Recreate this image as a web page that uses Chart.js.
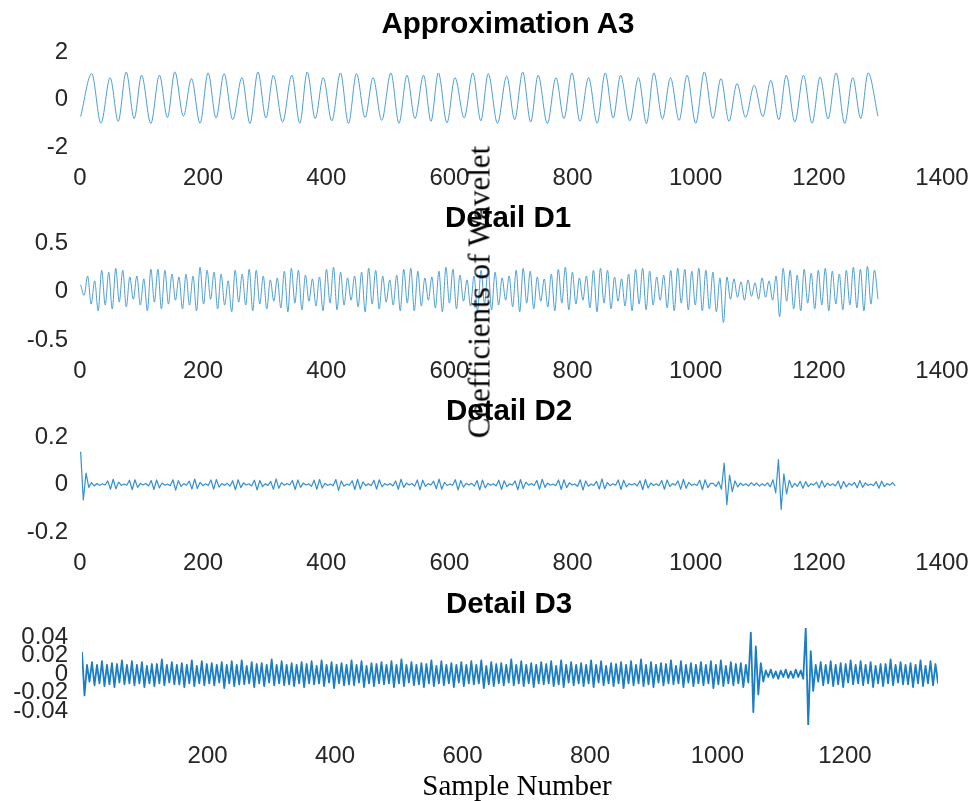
<!DOCTYPE html>
<html>
<head>
<meta charset="utf-8">
<script src="https://cdn.jsdelivr.net/npm/chart.js@4.4.1/dist/chart.umd.min.js"></script>
<style>
html,body{margin:0;padding:0;background:#fff;}
#wrap{position:relative;width:973px;height:801px;overflow:hidden;background:#fff;}
canvas{position:absolute;left:0;}
.title{position:absolute;font-family:"Liberation Sans",Arial,sans-serif;font-weight:bold;font-size:29.5px;line-height:29.5px;color:#000;white-space:nowrap;transform:translateX(-50%);z-index:5;}
.lab{position:absolute;font-family:"Liberation Serif","Times New Roman",serif;color:#000;white-space:nowrap;z-index:6;}
</style>
</head>
<body>
<div id="wrap">
  <canvas id="c0" width="973" height="175"></canvas>
  <canvas id="c1" width="973" height="177"></canvas>
  <canvas id="c2" width="973" height="175"></canvas>
  <canvas id="c3" width="973" height="177"></canvas>
  <div class="title" id="t0"></div>
  <div class="title" id="t1"></div>
  <div class="title" id="t2"></div>
  <div class="title" id="t3"></div>
  <div class="lab" id="ylab" style="font-size:31px;line-height:31px;left:479px;top:292px;transform:translate(-50%,-50%) rotate(-90deg);">Coefficients of Wavelet</div>
  <div class="lab" id="xlab" style="font-size:29px;line-height:29px;left:517px;top:771px;transform:translateX(-50%);">Sample Number</div>
</div>
<script>
// ---------------- DATA ----------------
const panelTitles = ['Approximation A3', 'Detail D1', 'Detail D2', 'Detail D3'];

// Approximation A3: sample positions of the start, each peak/trough, and the end
const a3X = [1,19,34,49,62,75,88,100,115,129,142,154,168,181,195,208,221,234,248,263,276,289,302,314,329,344,357,369,382,395,409,423,436,449,463,476,490,505,518,531,544,558,570,582,596,609,624,638,651,663,678,693,706,719,732,744,759,773,786,799,812,826,840,853,866,878,893,907,920,932,946,959,973,986,1000,1014,1028,1041,1054,1067,1081,1095,1109,1122,1135,1147,1161,1175,1189,1202,1215,1228,1242,1255,1268,1280,1296];
const a3Y = [-0.72,1.09,-1.0,0.92,-0.92,1.16,-0.8,1.02,-1.01,1.02,-0.76,1.16,-0.7,0.88,-1.0,1.12,-0.78,1.09,-0.85,0.92,-1.01,1.16,-0.78,1.02,-0.95,1.02,-1.0,1.16,-0.8,0.92,-0.9,1.12,-1.01,1.09,-0.76,0.92,-0.88,1.12,-1.0,1.02,-0.8,1.02,-0.92,1.12,-0.98,0.92,-0.78,1.12,-0.9,1.09,-1.0,0.98,-0.85,1.16,-0.95,1.02,-1.01,0.92,-0.8,1.12,-0.92,0.92,-1.0,1.12,-0.78,1.02,-0.9,0.92,-1.01,1.12,-0.82,0.92,-0.88,1.02,-1.0,1.16,-0.8,0.88,-0.92,0.67,-0.75,0.60,-0.72,0.81,-0.85,1.02,-0.95,1.02,-1.0,0.95,-0.82,1.12,-1.01,0.92,-0.8,1.12,-0.7];

// Detail D1: successive peaks/troughs (hundredths), evenly spread over samples d1Start..d1End
const d1Start = 1, d1End = 1296;
const d1Hundredths = [7,-4,16,-13,11,-20,22,-14,20,-18,24,-11,22,-16,15,-8,16,-14,13,-20,23,-11,23,-18,22,-13,18,-9,15,-18,18,-14,16,-20,25,-13,22,-8,20,-18,18,-14,11,-21,22,-11,18,-14,23,-20,22,-13,16,-18,
12,-10,14,-17,21,-21,24,-12,22,-19,17,-10,13,-15,15,-20,23,-12,25,-19,20,-14,14,-9,16,-16,20,-21,24,-13,22,-18,16,-11,12,-14,17,-20,23,-12,24,-20,21,-15,14,-9,15,-17,21,-21,25,-12,23,-18,17,-10,12,-15,16,-20,22,-13,24,-19,20,-14,
14,-9,16,-16,22,-21,24,-12,21,-18,15,-10,13,-16,18,-20,23,-12,25,-19,20,-13,14,-9,16,-17,22,-21,24,-12,22,-18,15,-10,13,-15,18,-20,23,-13,24,-19,21,-14,15,-9,17,-17,22,-20,24,-12,23,-19,21,-14,24,-20,22,-18,20,-21,14,-32,15,-8,13,-6,10,-9,12,-5,9,-8,14,-6,11,-9,16,-26,24,-10,22,-18,17,-20,23,-12,19,-18,22,-14,24,-20,21,-13,18,-19,22,-14,25,-17,23,-20,26,-13,22,-8];

// Detail D2: successive values (thousandths), evenly spread over samples d2Start..d2End
const d2Start = 1, d2End = 1324;
const d2Thousandths = [138,-65,48,-12,8,-6,4,-3,
3,-2,15,-20,22,-18,10,-4,2,-3,18,-22,20,-12,5,
-2,4,-6,17,-21,19,-14,6,-3,2,-5,20,-24,16,-8,
4,-3,14,-19,23,-17,9,-5,3,-4,19,-20,21,-11,4,
-3,5,-7,16,-22,20,-13,7,-2,3,-6,18,-23,17,-9,
3,-4,13,-20,24,-16,8,-3,4,-2,17,-21,19,-12,6,
-2,3,-8,18,-20,21,-15,5,-4,2,-5,21,-25,15,-7,
2,-3,16,-21,22,-19,11,-5,3,-5,18,-19,20,-10,4,
-3,4,-6,15,-20,22,-12,6,-2,4,-7,19,-22,18,-8,
4,-2,14,-18,23,-20,9,-4,2,-3,20,-23,17,-11,5,
-2,5,-7,17,-23,19,-14,5,-3,3,-6,18,-21,16,-9,
3,-3,15,-22,21,-17,10,-3,4,-4,17,-20,22,-12,6,
-3,2,-5,19,-21,20,-13,7,-2,2,-8,20,-24,15,-7,
2,-4,13,-19,24,-18,8,-5,3,-3,19,-21,18,-10,4,
-2,4,-6,16,-22,21,-15,6,-4,3,-5,17,-20,19,-8,
4,-3,15,-20,22,-16,9,-4,2,-4,18,-22,20,-13,5,
5,-8,12,-20,90,-85,40,-30,15,-10,6,-4,3,
-6,8,-4,6,-7,3,-5,7,-10,
20,-35,105,-105,45,-40,18,-12,
5,-8,14,-16,12,-9,4,-3,10,-15,16,-11,6,-4,3,-6,15,-18,13,-10,5,-3,9,-14,17,-12,7,-4,2,-5,12,-16,14,-9,4,-3,8,-6];

// Detail D3: successive values (thousandths), evenly spread over samples d3Start..d3End
const d3Start = 3, d3End = 1346;
const d3Thousandths = [24,-23,10,-8,
13,-12,10,-10,14,-13,10,-11, 12,-14,11,-9,15,-11,10,-10, 14,-12,10,-10,13,-14,9,-10, 11,-13,11,-10,16,-12,10,-9,
13,-11,10,-11,12,-14,10,-10, 15,-13,9,-10,14,-12,11,-10, 12,-12,10,-9,13,-15,10,-10, 14,-13,10,-11,15,-11,9,-10,
13,-14,11,-10,12,-13,10,-9, 16,-12,10,-10,14,-12,10,-11, 12,-13,10,-10,13,-14,11,-10, 14,-11,9,-10,15,-13,10,-9,
13,-15,10,-10,12,-12,10,-11, 15,-12,10,-9,14,-14,9,-10, 12,-13,11,-10,13,-11,10,-10, 14,-14,10,-10,16,-13,10,-9,
13,-12,10,-11,12,-14,11,-10, 15,-13,9,-10,14,-12,10,-10, 12,-14,10,-9,13,-13,10,-10, 14,-11,10,-10,15,-15,9,-11,
13,-13,11,-10,12,-12,10,-9, 16,-12,10,-10,14,-13,10,-10, 12,-14,10,-10,13,-11,11,-10, 14,-13,9,-11,15,-14,10,-9,
13,-12,10,-10,12,-13,10,-10, 15,-14,10,-9,14,-12,9,-10, 12,-13,11,-10,13,-15,10,-10, 14,-12,10,-10,16,-13,10,-11,
13,-14,10,-9,12,-12,11,-10, 15,-11,9,-10,14,-14,10,-9, 12,-13,10,-10,13,-12,10,-10, 14,-15,10,-11,15,-13,9,-10,
13,-12,11,-10,12,-14,10,-9,
45,-41,30,-22,12,-8,
4,-3,5,-4,3,-5,4,-3,5,-4,3,-4,5,-3,4,-5,
50,-55,25,-18,10,-8,
13,-12,10,-10,14,-13,10,-11, 12,-14,11,-9,15,-11,10,-10, 14,-12,10,-10,13,-14,9,-10,
11,-13,11,-10,16,-12,10,-9, 13,-11,10,-11,12,-14,10,-10, 15,-13,9,-10,14,-12,11,-10];

// tick labels
const xTicksFull = [0,200,400,600,800,1000,1200,1400];
const d3XTicks = [200,400,600,800,1000,1200];
const a3YTicks = [-2,0,2];
const d1YTicks = [-0.5,0,0.5];
const d2YTicks = [-0.2,0,0.2];
const d3YTicks = [-0.04,-0.02,0,0.02,0.04];

// ---------------- LAYOUT ----------------
const W = 973;
const TITLE_SIZE = 29.5;
const panels = [
  {canvas:'c0', top:52,  bottom:147, left:80, right:942, xmin:0, xmax:1400, ymin:-2,     ymax:2,    xt:xTicksFull, yt:a3YTicks, ypad:12, color:'#4c9ed3', lw:1,   mono:true,  titleX:508, titleBase:33},
  {canvas:'c1', top:243, bottom:340, left:80, right:942, xmin:0, xmax:1400, ymin:-0.5,   ymax:0.5,  xt:xTicksFull, yt:d1YTicks, ypad:12, color:'#4c9ed3', lw:1,   mono:true,  titleX:508, titleBase:227},
  {canvas:'c2', top:437, bottom:532, left:80, right:942, xmin:0, xmax:1400, ymin:-0.2,   ymax:0.2,  xt:xTicksFull, yt:d2YTicks, ypad:12, color:'#3590d0', lw:1.2, mono:false, titleX:509, titleBase:420},
  {canvas:'c3', top:628, bottom:725, left:82, right:938, xmin:3, xmax:1346, ymin:-0.055, ymax:0.05, xt:d3XTicks,   yt:d3YTicks, ypad:14, color:'#1b7dc4', lw:1.8, mono:false, titleX:509, titleBase:613}
];

function spread(vals, start, end, unit) {
  const step = (end - start) / (vals.length - 1);
  return vals.map((v, i) => ({x: start + i * step, y: v * unit}));
}
const series = [
  a3X.map((x, i) => ({x: x, y: a3Y[i]})),
  spread(d1Hundredths, d1Start, d1End, 0.01),
  spread(d2Thousandths, d2Start, d2End, 0.001),
  spread(d3Thousandths, d3Start, d3End, 0.001)
];

const PAD_TOP = 30, XAXIS_H = 50;
const tickFont = {family: '"Liberation Sans", Arial, sans-serif', size: 24};
const tickColor = '#262626';
const fmt = v => String(+Number(v).toFixed(4));

panels.forEach((p, k) => {
  const cv = document.getElementById(p.canvas);
  const h = (p.bottom - p.top) + PAD_TOP + XAXIS_H;
  cv.height = h;
  cv.style.top = (p.top - PAD_TOP) + 'px';
  const t = document.getElementById('t' + k);
  t.textContent = panelTitles[k];
  t.style.left = p.titleX + 'px';
  t.style.top = (p.titleBase - 0.8465 * TITLE_SIZE) + 'px';

  new Chart(cv, {
    type: 'line',
    data: {datasets: [{
      data: series[k],
      borderColor: p.color,
      borderWidth: p.lw,
      borderJoinStyle: 'round',
      pointRadius: 0,
      fill: false,
      tension: 0,
      cubicInterpolationMode: p.mono ? 'monotone' : 'default'
    }]},
    options: {
      responsive: false,
      animation: false,
      events: [],
      devicePixelRatio: 1,
      layout: {padding: {top: PAD_TOP, right: W - p.right, left: 0, bottom: 0}},
      plugins: {legend: {display: false}, tooltip: {enabled: false}, title: {display: false}},
      scales: {
        x: {
          type: 'linear', min: p.xmin, max: p.xmax,
          border: {display: false},
          grid: {display: false, drawTicks: false},
          ticks: {autoSkip: false, maxRotation: 0, padding: 17, font: tickFont, color: tickColor, callback: fmt},
          afterBuildTicks: s => { s.ticks = p.xt.map(v => ({value: v})); },
          afterFit: s => { s.height = XAXIS_H; s.paddingLeft = 0; s.paddingRight = 0; }
        },
        y: {
          type: 'linear', min: p.ymin, max: p.ymax,
          border: {display: false},
          grid: {display: false, drawTicks: false},
          ticks: {autoSkip: false, padding: p.ypad, font: tickFont, color: tickColor, callback: fmt},
          afterBuildTicks: s => { s.ticks = p.yt.map(v => ({value: v})); },
          afterFit: s => { s.width = p.left; s.paddingTop = 0; s.paddingBottom = 0; }
        }
      }
    }
  });
});
</script>
</body>
</html>
